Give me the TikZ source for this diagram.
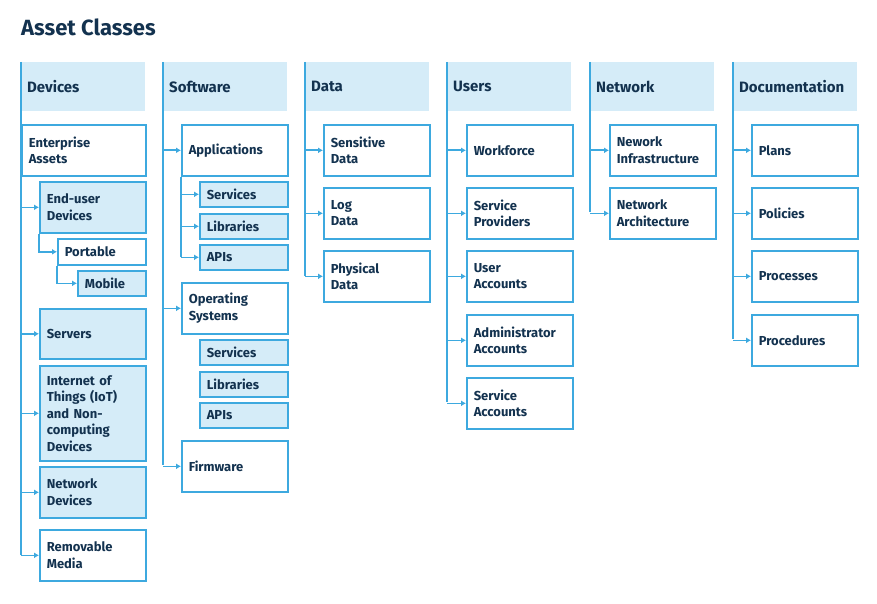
\documentclass[tikz,border=0pt]{standalone}
\usepackage{fontspec}
\setmainfont{Fira Sans}
\usetikzlibrary{arrows.meta}
\definecolor{lineblue}{HTML}{3DA9DF}
\definecolor{fillblue}{HTML}{D5ECF8}
\definecolor{navy}{HTML}{13324F}
\tikzset{
  hdr/.style={anchor=north west, fill=fillblue, minimum width=124pt, minimum height=49pt,
    text width=112pt, inner xsep=6pt, align=left, font=\fontsize{15}{18}\selectfont\bfseries, text=navy},
  box/.style={anchor=north west, draw=lineblue, line width=1.6pt, fill=white, inner xsep=6pt,
    align=left, font=\fontsize{13}{16.5}\selectfont\bfseries, text=navy},
  fbox/.style={box, fill=fillblue},
  conn/.style={draw=lineblue, line width=1.6pt, -{Latex[length=5pt,width=6pt]}},
  trunk/.style={draw=lineblue, line width=1.6pt}
}
\begin{document}
\begin{tikzpicture}[x=1pt,y=-1pt]
  \useasboundingbox (0,0) rectangle (877,604);
  \node[anchor=west, text=navy, inner sep=0pt, font=\fontsize{22}{26}\selectfont\bfseries] (title) at (21,27) {Asset Classes};

  % headers
  \node[hdr] (devh) at (21,62) {Devices};
  \node[hdr] (swh) at (163,62) {Software};
  \node[hdr] (dath) at (305,62) {Data};
  \node[hdr] (usrh) at (447,62) {Users};
  \node[hdr] (neth) at (590,62) {Network};
  \node[hdr] (doch) at (733,62) {Documentation};

  % devices
  \node[box, minimum width=124pt, minimum height=51pt, text width=110pt] (ent) at (21,124) {Enterprise\\Assets};
  \node[fbox, minimum width=106pt, minimum height=51pt, text width=92pt] (eud) at (39,181) {End-user\\Devices};
  \node[box, minimum width=88pt, minimum height=26pt, text width=74pt] (port) at (57,238) {Portable};
  \node[fbox, minimum width=68pt, minimum height=25pt, text width=54pt] (mob) at (77,270) {Mobile};
  \node[fbox, minimum width=106pt, minimum height=50pt, text width=92pt] (srv) at (39,308) {Servers};
  \node[fbox, minimum width=106pt, minimum height=95pt, text width=92pt] (iot) at (39,365) {Internet of\\Things (IoT)\\and Non-\\computing\\Devices};
  \node[fbox, minimum width=106pt, minimum height=51pt, text width=92pt] (ndev) at (39,466) {Network\\Devices};
  \node[box, minimum width=106pt, minimum height=51pt, text width=92pt] (rem) at (39,529) {Removable\\Media};
  \draw[trunk] (devh.north west) -- (21,555);
  \foreach \n in {eud,srv,iot,ndev,rem}
    \draw[conn] (devh.west |- \n.west) -- (\n.west);
  \draw[conn] (eud.south west) |- (port.west);
  \draw[conn] (port.south west) |- (mob.west);

  % software
  \node[box, minimum width=106pt, minimum height=51pt, text width=92pt] (apps) at (181,124) {Applications};
  \node[fbox, minimum width=88pt, minimum height=25pt, text width=74pt] (asrv) at (199,181) {Services};
  \node[fbox, minimum width=88pt, minimum height=25pt, text width=74pt] (alib) at (199,213) {Libraries};
  \node[fbox, minimum width=88pt, minimum height=25pt, text width=74pt] (aapi) at (199,244) {APIs};
  \node[box, minimum width=106pt, minimum height=51pt, text width=92pt] (os) at (181,282) {Operating\\Systems};
  \node[fbox, minimum width=88pt, minimum height=25pt, text width=74pt] (osrv) at (199,339) {Services};
  \node[fbox, minimum width=88pt, minimum height=25pt, text width=74pt] (olib) at (199,371) {Libraries};
  \node[fbox, minimum width=88pt, minimum height=25pt, text width=74pt] (oapi) at (199,402) {APIs};
  \node[box, minimum width=106pt, minimum height=51pt, text width=92pt] (fw) at (181,440) {Firmware};
  \draw[trunk] (swh.north west) -- (163,465);
  \foreach \n in {apps,os,fw}
    \draw[conn] (swh.west |- \n.west) -- (\n.west);
  \draw[trunk] (apps.south west) -- (181,257);
  \foreach \n in {asrv,alib,aapi}
    \draw[conn] (apps.west |- \n.west) -- (\n.west);

  % data
  \node[box, minimum width=106pt, minimum height=51pt, text width=92pt] (sens) at (323,124) {Sensitive\\Data};
  \node[box, minimum width=106pt, minimum height=51pt, text width=92pt] (logd) at (323,187) {Log\\Data};
  \node[box, minimum width=106pt, minimum height=51pt, text width=92pt] (phys) at (323,250) {Physical\\Data};
  \draw[trunk] (dath.north west) -- (305,276);
  \foreach \n in {sens,logd,phys}
    \draw[conn] (dath.west |- \n.west) -- (\n.west);

  % users
  \node[box, minimum width=106pt, minimum height=51pt, text width=92pt] (work) at (466,124) {Workforce};
  \node[box, minimum width=106pt, minimum height=51pt, text width=92pt] (sprov) at (466,187) {Service\\Providers};
  \node[box, minimum width=106pt, minimum height=51pt, text width=92pt] (uacc) at (466,250) {User\\Accounts};
  \node[box, minimum width=106pt, minimum height=51pt, text width=92pt] (aacc) at (466,314) {Administrator\\Accounts};
  \node[box, minimum width=106pt, minimum height=51pt, text width=92pt] (sacc) at (466,377) {Service\\Accounts};
  \draw[trunk] (usrh.north west) -- (447,402);
  \foreach \n in {work,sprov,uacc,aacc,sacc}
    \draw[conn] (usrh.west |- \n.west) -- (\n.west);

  % network
  \node[box, minimum width=106pt, minimum height=51pt, text width=92pt] (ninf) at (609,124) {Nework\\Infrastructure};
  \node[box, minimum width=106pt, minimum height=51pt, text width=92pt] (narch) at (609,187) {Network\\Architecture};
  \draw[trunk] (neth.north west) -- (590,212);
  \foreach \n in {ninf,narch}
    \draw[conn] (neth.west |- \n.west) -- (\n.west);

  % documentation
  \node[box, minimum width=106pt, minimum height=51pt, text width=92pt] (plans) at (751,124) {Plans};
  \node[box, minimum width=106pt, minimum height=51pt, text width=92pt] (pol) at (751,187) {Policies};
  \node[box, minimum width=106pt, minimum height=51pt, text width=92pt] (proc) at (751,250) {Processes};
  \node[box, minimum width=106pt, minimum height=51pt, text width=92pt] (prcd) at (751,314) {Procedures};
  \draw[trunk] (doch.north west) -- (733,339);
  \foreach \n in {plans,pol,proc,prcd}
    \draw[conn] (doch.west |- \n.west) -- (\n.west);
\end{tikzpicture}
\end{document}
